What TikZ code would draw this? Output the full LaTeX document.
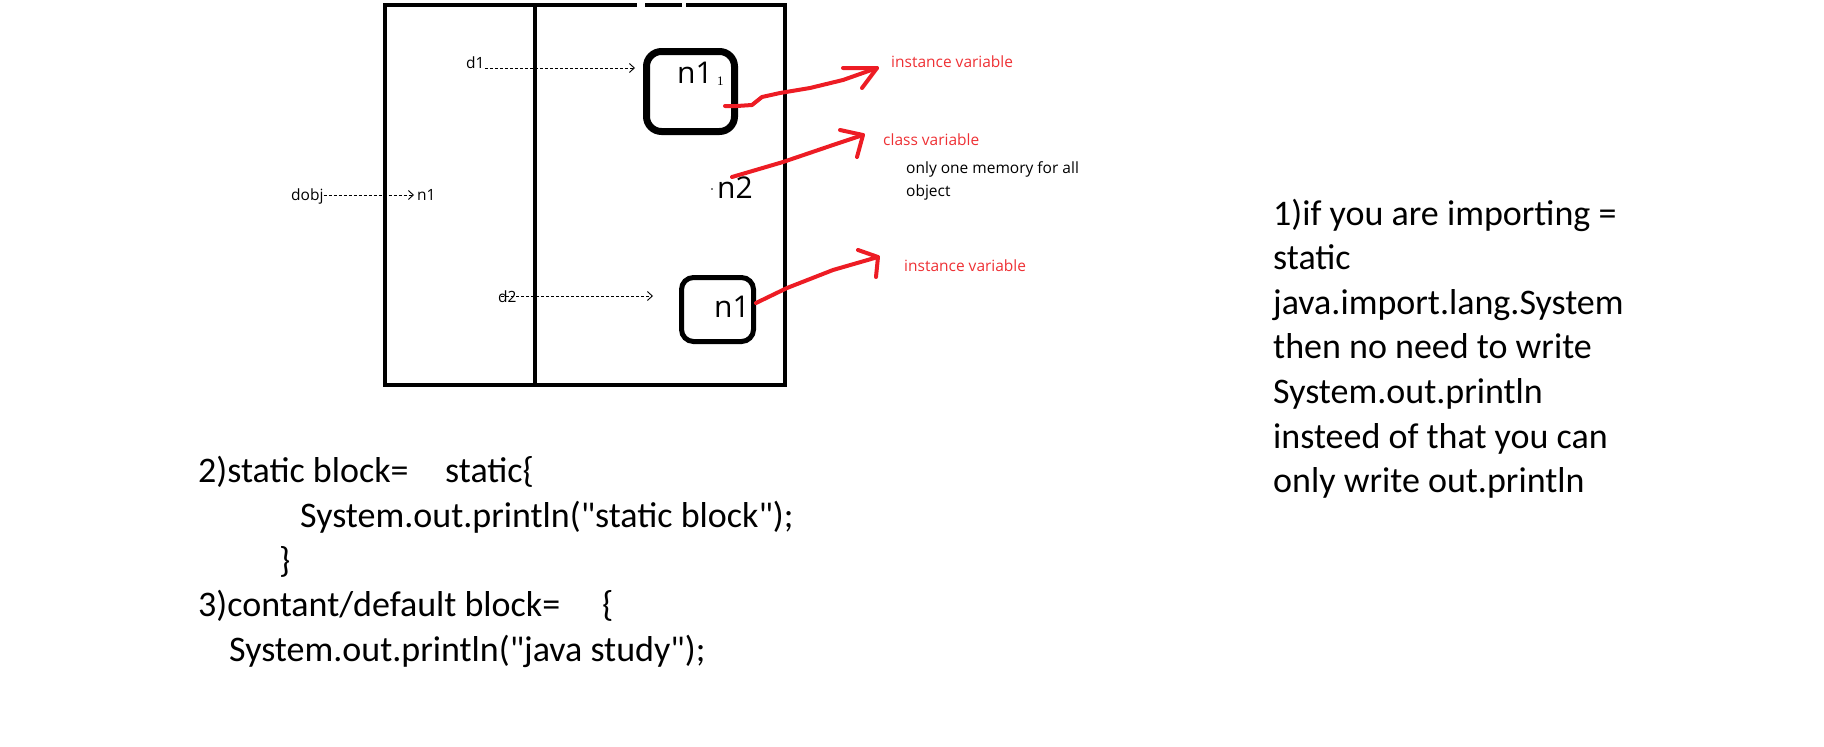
\documentclass[tikz,border=0pt]{standalone}
\usepackage{fontspec}
\setmainfont{Carlito}[Ligatures=TeXOff]
\newfontfamily\labfont{Open Sans}
\newfontfamily\serfont{Liberation Serif}
\usetikzlibrary{arrows.meta}
\definecolor{pred}{RGB}{237,28,36}
\definecolor{tred}{RGB}{238,48,52}
\tikzset{
  big/.style={inner sep=0pt, anchor=base west, font=\fontsize{36}{44.6}\selectfont},
  lab/.style={inner sep=0pt, anchor=base west, font=\labfont\fontsize{15.5}{19}\selectfont},
  redlab/.style={lab, text=tred},
  var/.style={inner sep=0pt, anchor=base west, font=\labfont\fontsize{30}{34}\selectfont},
  frame/.style={line width=4pt, line cap=rect},
  dasharrow/.style={line width=0.9pt, dash pattern=on 3pt off 2pt, -{Straight Barb[length=5pt,width=9pt,line width=0.9pt]}},
  redline/.style={pred, line width=4pt, line cap=round, line join=round},
}
\begin{document}
\begin{tikzpicture}[x=1pt,y=-1pt]
\useasboundingbox (0,0) rectangle (1824,747);
% outer frame
\draw[frame] (385,5) -- (385,385) -- (785,385) -- (785,5) -- (688,5);
\draw[frame] (680,5) -- (647,5);
\draw[frame] (635,5) -- (385,5);
\draw[line width=4pt] (535,5) -- (535,387);
% boxes
\draw[line width=7pt, rounded corners=15pt] (646.5,51.5) rectangle (734.5,131.5);
\draw[line width=5pt, rounded corners=12pt] (681.5,277.5) rectangle (753.5,341.5);
% texts in boxes
\node[var] (n1a) at (677,83) {n1};
\node[inner sep=0pt, anchor=base west, font=\serfont\fontsize{13}{15}\selectfont] (sub) at (717,85) {1};
\node[var] (n2) at (717,198) {n2};
\fill (712,189) circle (0.8);
\node[var] (n1b) at (714,317) {n1};
% reference labels
\node[lab] (d1) at (466,68) {d1};
\coordinate (d1t) at (635,68);
\draw[dasharrow] (d1.east |- d1t) -- (d1t);
\node[lab] (dobj) at (291,200) {dobj};
\node[lab] (dn1) at (417,200) {n1};
\coordinate (dot) at (414,195);
\draw[dasharrow] (dobj.east |- dot) -- (dot);
\node[lab] (d2) at (498,302) {d2};
\coordinate (d2t) at (653,296);
\draw[dasharrow] ([xshift=3pt]d2.west |- d2t) -- (d2t);
% red annotations
\node[redlab] (iv1) at (891,67) {instance variable};
\node[redlab] (cv) at (883,145) {class variable};
\node[lab] (om1) at (906,173) {only one memory for all};
\node[lab] (om2) at (906,196) {object};
\node[redlab] (iv2) at (904,271) {instance variable};
\coordinate (t1) at (877,68);
\coordinate (t2) at (863,135);
\coordinate (t3) at (878,257);
\draw[redline] (725,106) -- (737,106) -- (752,105) -- (762,97) -- (780,93) -- (810,88) -- (843,80) -- (t1);
\draw[redline] (843,68) -- (t1) -- (862,88);
\draw[redline] (732,177) -- (783,162) -- (833,145) -- (t2);
\draw[redline] (840,130) -- (t2) -- (857,157);
\draw[redline] (756,303) -- (787,288) -- (833,270) -- (t3);
\draw[redline] (858,250) -- (t3) -- (876,277);
% right notes
\node[big] (r1) at (1273,225) {1)if you are importing =};
\node[big] (r2) at (1273,269.6) {static};
\node[big] (r3) at (1273,314.2) {java.import.lang.System};
\node[big] (r4) at (1273,358.8) {then no need to write};
\node[big] (r5) at (1273,403.4) {System.out.println};
\node[big] (r6) at (1273,448) {insteed of that you can};
\node[big] (r7) at (1273,492.6) {only write out.println};
% bottom-left notes
\node[big] (l1) at (198,482) {2)static block=};
\node[big] (l1b) at (445,482) {static\{};
\node[big] (l2) at (300,527) {System.out.println("static block");};
\node[big] (l3) at (279,572) {\}};
\node[big] (l4) at (198,616.6) {3)contant/default block=};
\node[big] (l4b) at (602,616.6) {\{};
\node[big] (l5) at (229,661.2) {System.out.println("java study");};
\end{tikzpicture}
\end{document}
